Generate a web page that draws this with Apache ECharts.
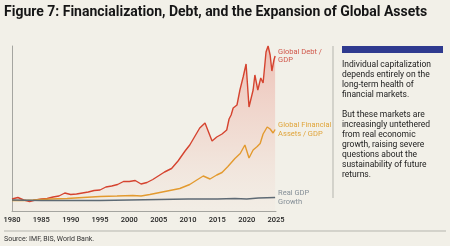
<!DOCTYPE html>
<html>
<head>
<meta charset="utf-8">
<script src="https://cdn.jsdelivr.net/npm/echarts@6/dist/echarts.min.js"></script>
<style>
  html, body { margin: 0; padding: 0; background: #f2f0e8; }
  #chart { width: 450px; height: 246px; }
</style>
</head>
<body>
<div id="chart"></div>
<script>
// index units (1980 ~ same starting level for all three series)
const debtYears = [1980, 1981, 1982, 1983, 1984, 1985, 1986, 1987, 1988, 1989, 1990, 1991, 1992, 1993, 1994, 1995, 1996, 1997, 1998, 1999, 2000, 2001, 2002, 2003, 2004, 2005.2, 2006, 2007.2, 2008.3, 2009.5, 2010.3, 2011.2, 2012, 2012.9, 2014.1, 2014.9, 2015.8, 2016.1, 2016.6, 2017, 2017.35, 2017.7, 2018, 2018.35, 2018.85, 2019.4, 2019.9, 2020.4, 2021.1, 2021.4, 2021.9, 2022.4, 2022.8, 2023.3, 2023.65, 2024, 2024.3, 2024.65, 2024.85];
const debtValues = [24, 27, 22, 19, 22, 24, 25, 28, 30, 36, 33, 34, 36, 38, 41, 42, 48, 50, 53, 59, 59, 61, 54, 57, 63, 72, 78, 85, 100, 120, 132, 150, 166, 176, 140, 148, 154, 150, 162, 184, 192, 206, 202, 212, 242, 268, 294, 208, 242, 272, 242, 266, 256, 318, 330, 312, 280, 302, 310];

const assetYears = [1980, 1982, 1983.6, 1986.5, 1989.4, 1992.1, 1995, 1997.9, 2000.6, 2002, 2003.5, 2005.2, 2006.9, 2008.6, 2010.3, 2011.5, 2012.6, 2013.75, 2014.9, 2015.8, 2016.8, 2018, 2018.9, 2019.7, 2020.4, 2021.1, 2021.8, 2022.3, 2022.8, 2023.5, 2024, 2024.5, 2024.85];
const assetValues = [21, 21, 22, 24, 25, 27, 29, 30, 31, 30, 33, 37, 41, 45, 53, 62, 70, 64, 72, 77, 89, 105, 115, 132, 106, 122, 129, 135, 154, 168, 164, 156, 163];

const gdpYears = [1980, 1985, 1990, 1995, 2000, 2005, 2010, 2013, 2015, 2018, 2020, 2022, 2024.85];
const gdpValues = [22, 21, 21, 21, 22, 23, 24, 24, 24, 25, 24, 26, 27];

const seriesNames = ['Global Debt /\nGDP', 'Global Financial\nAssets / GDP', 'Real GDP\nGrowth'];
const seriesColors = ['#d5432f', '#e39a2f', '#5e6a74'];
const labelColors = ['#d0574a', '#e0a43a', '#858f97'];

const panelText = [
  'Individual capitalization',
  'depends entirely on the',
  'long-term health of',
  'financial markets.',
  '',
  'But these markets are',
  'increasingly untethered',
  'from real economic',
  'growth, raising severe',
  'questions about the',
  'sustainability of future',
  'returns.'
];

const title = 'Figure 7: Financialization, Debt, and the Expansion of Global Assets';
const source = 'Source: IMF, BIS, World Bank.';

const pair = (xs, ys) => xs.map((x, i) => [x, ys[i]]);

const chart = echarts.init(document.getElementById('chart'));

const makeSeries = (i, data, extra) => Object.assign({
  name: seriesNames[i],
  type: 'line',
  data: data,
  symbol: 'none',
  smooth: false,
  z: 3 + i,
  lineStyle: { color: seriesColors[i], width: 1.4 },
  endLabel: {
    show: true,
    formatter: '{a}',
    color: labelColors[i],
    fontSize: 7.5,
    lineHeight: 8.5,
    fontFamily: 'Roboto',
    distance: 3
  }
}, extra || {});

const option = {
  backgroundColor: '#f2f0e8',
  animation: false,
  grid: { left: 12, right: 174, top: 46, bottom: 35 },
  xAxis: {
    type: 'value',
    min: 1980,
    max: 2025,
    interval: 5,
    axisLine: { show: true, lineStyle: { color: '#a5a5a0', width: 1 } },
    axisTick: { show: false },
    splitLine: { show: false },
    axisLabel: {
      color: '#222',
      fontSize: 7.5,
      fontWeight: 500,
      fontFamily: 'Roboto',
      margin: 5,
      formatter: (v) => String(v)
    }
  },
  yAxis: {
    type: 'value',
    min: 0,
    max: 330,
    axisLine: { show: true, lineStyle: { color: '#a5a5a0', width: 1 } },
    axisTick: { show: false },
    axisLabel: { show: false },
    splitLine: { show: false }
  },
  series: [
    makeSeries(0, pair(debtYears, debtValues), {
      areaStyle: {
        color: new echarts.graphic.LinearGradient(0, 0, 0, 1, [
          { offset: 0, color: 'rgba(228, 90, 75, 0.45)' },
          { offset: 0.6, color: 'rgba(235, 130, 115, 0.22)' },
          { offset: 1, color: 'rgba(240, 190, 180, 0.08)' }
        ])
      }
    }),
    makeSeries(1, pair(assetYears, assetValues)),
    makeSeries(2, pair(gdpYears, gdpValues))
  ],
  graphic: [
    {
      type: 'text', left: 4, top: 5,
      style: { text: title, fontSize: 14, fontWeight: 'bold', fontFamily: 'Roboto', fill: '#161616' }
    },
    {
      type: 'line', shape: { x1: 333, y1: 46, x2: 333, y2: 198 },
      style: { stroke: '#b5b5ae', lineWidth: 1 }
    },
    {
      type: 'rect', shape: { x: 342, y: 46, width: 101, height: 7 },
      style: { fill: '#2f3a8f' }
    },
    {
      type: 'text', left: 342, top: 60,
      style: {
        text: panelText.join('\n'),
        fontSize: 8.5, lineHeight: 10, fontFamily: 'Roboto', fill: '#222'
      }
    },
    {
      type: 'line', shape: { x1: 4, y1: 231, x2: 446, y2: 231 },
      style: { stroke: '#b5b5ae', lineWidth: 1 }
    },
    {
      type: 'text', left: 4, top: 236,
      style: { text: source, fontSize: 7, fontFamily: 'Roboto', fill: '#333' }
    }
  ]
};

chart.setOption(option);
</script>
</body>
</html>
